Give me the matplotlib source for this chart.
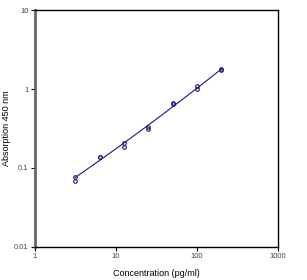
import matplotlib.pyplot as plt
import numpy as np

plt.rcParams['font.family'] = ['Liberation Sans', 'DejaVu Sans']

# standard curve, duplicates per concentration
conc = np.array([3.125, 6.25, 12.5, 25, 50, 100, 200])
od_a = np.array([0.078, 0.139, 0.205, 0.33, 0.66, 1.08, 1.77])
od_b = np.array([0.069, 0.136, 0.186, 0.31, 0.65, 0.99, 1.75])

xticks = [1, 10, 100, 1000]
xtick_labels = ["1", "10", "100", "1000"]
yticks = [0.01, 0.1, 1, 10]
ytick_labels = ["0.01", "0.1", "1", "10"]

col = "#1a1a80"

fig = plt.figure(figsize=(3.07, 2.80), dpi=100)
ax = fig.add_axes([0.114, 0.118, 0.792, 0.846])

# curve fit in log-log space
lx = np.log10(np.concatenate([conc, conc]))
ly = np.log10(np.concatenate([od_a, od_b]))
p = np.polyfit(lx, ly, 2)
xf = np.linspace(np.log10(conc[0]), np.log10(conc[-1]), 100)
ax.plot(10**xf, 10**np.polyval(p, xf), color=col, lw=0.8)

ax.plot(conc, od_a, 'o', mfc='none', mec=col, ms=2.6, mew=0.8)
ax.plot(conc, od_b, 'o', mfc='none', mec=col, ms=2.6, mew=0.8)

ax.set_xscale('log')
ax.set_yscale('log')
ax.set_xlim(1, 1000)
ax.set_ylim(0.01, 10)
ax.set_xticks(xticks)
ax.set_xticklabels(xtick_labels)
ax.set_yticks(yticks)
ax.set_yticklabels(ytick_labels)
ax.minorticks_off()
ax.tick_params(labelsize=5.5, length=3, width=0.8, pad=1.5, colors='black', labelcolor='#444444')

for s in ['top', 'right', 'bottom']:
    ax.spines[s].set_linewidth(1.0)
ax.spines['left'].set_linewidth(2.0)
ax.spines['left'].set_color('#666666')

ax.set_xlabel("Concentration (pg/ml)", fontsize=6.5, labelpad=6)
ax.set_ylabel("Absorption 450 nm", fontsize=6.5, labelpad=2)

fig.savefig("out.png", dpi=100)
